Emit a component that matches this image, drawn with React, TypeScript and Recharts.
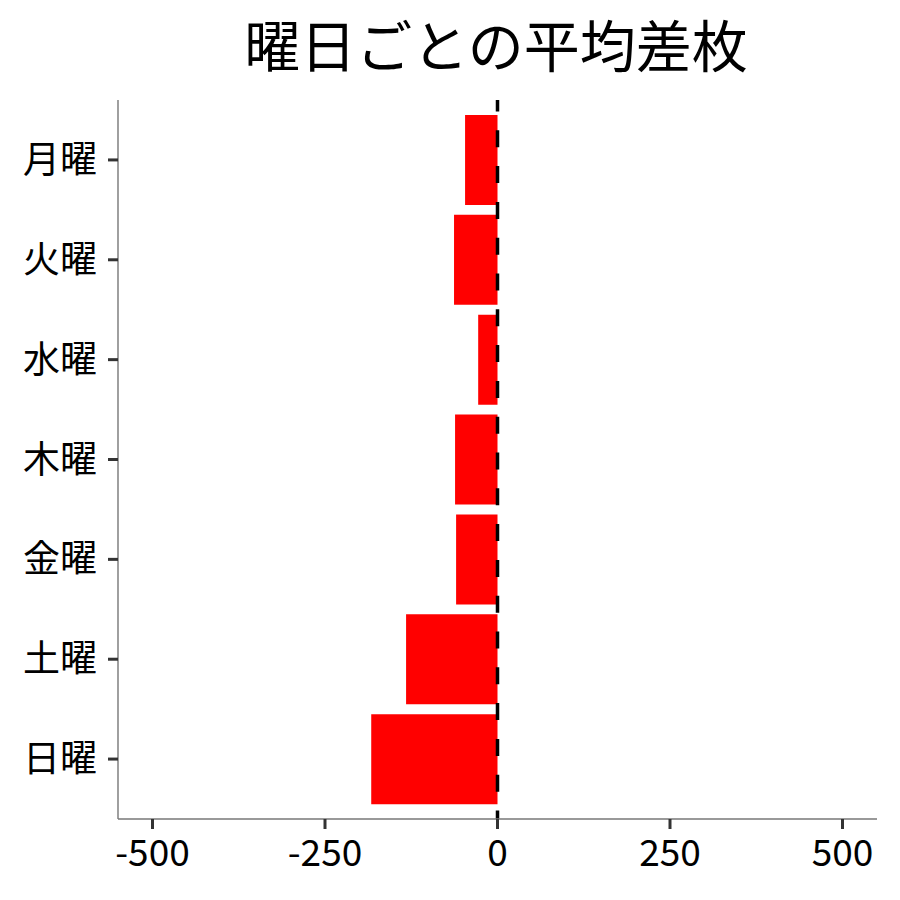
import { BarChart, Bar, XAxis, YAxis, ReferenceLine } from "recharts";

const days = ["月曜", "火曜", "水曜", "木曜", "金曜", "土曜", "日曜"];
const avgDiff = [-47, -63, -28, -61.5, -60, -132.5, -183];
const xTicks = [-500, -250, 0, 250, 500];

const data = days.map((day, i) => ({ day, value: avgDiff[i] }));

const FONT = "'Noto Sans CJK JP', 'Noto Sans', sans-serif";
const TICK_SIZE = 10;
const TICK_GAP = 11;

// eslint-disable-next-line @typescript-eslint/no-explicit-any
const YTick = (props: any) => {
  const { x, y, payload } = props;
  return (
    <g>
      <line x1={x + TICK_GAP} x2={x + TICK_GAP + TICK_SIZE} y1={y} y2={y} stroke="#333" strokeWidth={3} />
      <text x={x} y={y} dy="0.355em" textAnchor="end" fontFamily={FONT} fontSize={37} fill="#000">
        {payload.value}
      </text>
    </g>
  );
};

// eslint-disable-next-line @typescript-eslint/no-explicit-any
const XTick = (props: any) => {
  const { x, y, payload } = props;
  return (
    <g>
      <line x1={x} x2={x} y1={y - TICK_GAP - TICK_SIZE} y2={y - TICK_GAP} stroke="#333" strokeWidth={3} />
      <text x={x} y={y} dy="0.71em" textAnchor="middle" fontFamily={FONT} fontSize={37} fill="#000">
        {payload.value}
      </text>
    </g>
  );
};

export default function App() {
  return (
    <div style={{ position: "absolute", left: 0, top: 0, width: 900, height: 900, background: "#fff" }}>
      <svg width={900} height={100} style={{ position: "absolute", left: 0, top: 0 }}>
        <text x={496} y={67} textAnchor="middle" fontFamily={FONT} fontSize={56} fill="#000">
          曜日ごとの平均差枚
        </text>
      </svg>
      <div style={{ position: "absolute", left: 0, top: 0 }}>
        <BarChart
          width={900}
          height={900}
          data={data}
          layout="vertical"
          margin={{ top: 100, right: 23, bottom: 0, left: 0 }}
        >
          <XAxis
            type="number"
            domain={[-550, 550]}
            ticks={xTicks}
            allowDataOverflow
            height={81}
            axisLine={{ stroke: "#777", strokeWidth: 1.4 }}
            tickLine={false}
            tickSize={TICK_SIZE}
            tickMargin={TICK_GAP}
            tick={<XTick />}
          />
          <YAxis
            type="category"
            dataKey="day"
            width={118}
            padding={{ top: 10, bottom: 10 }}
            axisLine={{ stroke: "#777", strokeWidth: 1.4 }}
            tickLine={false}
            tickSize={TICK_SIZE}
            tickMargin={TICK_GAP}
            tick={<YTick />}
          />
          <Bar dataKey="value" fill="#ff0000" barSize={90} isAnimationActive={false} />
          <ReferenceLine
            x={0}
            stroke="#000"
            strokeWidth={3.5}
            strokeDasharray="17 18.8"
            strokeDashoffset={8.5}
          />
        </BarChart>
      </div>
    </div>
  );
}
